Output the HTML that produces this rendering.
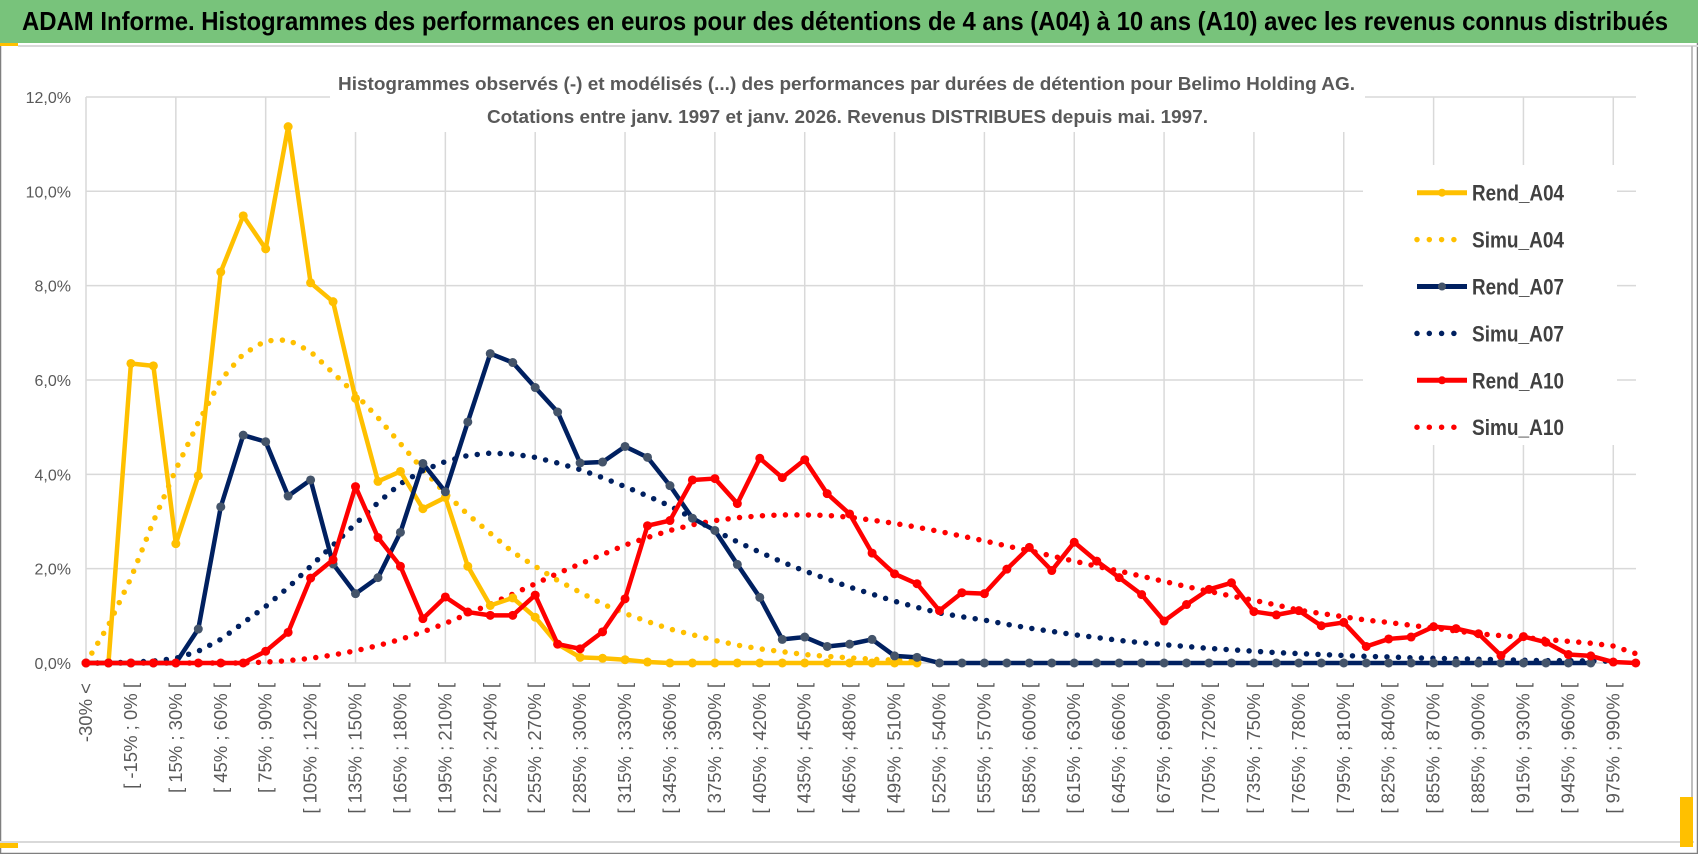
<!DOCTYPE html>
<html><head><meta charset="utf-8">
<style>
html,body{margin:0;padding:0;background:#fff;}
svg{display:block;font-family:"Liberation Sans",sans-serif;}
</style></head>
<body>
<svg id="chart" width="1698" height="854" viewBox="0 0 1698 854" xmlns="http://www.w3.org/2000/svg">
  <rect x="0" y="0" width="1698" height="854" fill="#fff"/>
  <rect x="0.5" y="0.5" width="1697" height="853" fill="none" stroke="#7f7f7f" stroke-width="1.5"/>
  <rect x="0" y="0" width="1698" height="43" fill="#78c37b"/>
  <rect x="0" y="43" width="18" height="3" fill="#ffc000"/>
  <line x1="18" y1="46" x2="1698" y2="46" stroke="#d9d9d9" stroke-width="2"/>
  <text x="22" y="30" font-size="26" font-weight="bold" fill="#000" textLength="1646" lengthAdjust="spacingAndGlyphs">ADAM Informe. Histogrammes des performances en euros pour des détentions de 4 ans (A04) à 10 ans (A10) avec les revenus connus distribués</text>
  <line x1="0" y1="842" x2="1694" y2="842" stroke="#d9d9d9" stroke-width="2"/>
  <rect x="0" y="843" width="18" height="5" fill="#ffc000"/>
  <line x1="1692" y1="46" x2="1692" y2="842" stroke="#bfbfbf" stroke-width="2"/>
  <rect x="1680" y="797" width="13" height="50" fill="#ffc000"/>
  <g id="grid"></g>
  <rect x="330" y="60" width="1035" height="72" fill="#fff"/>
  <text x="338" y="90" font-size="18" font-weight="bold" fill="#595959" textLength="1017" lengthAdjust="spacingAndGlyphs">Histogrammes observés (-) et modélisés (...) des performances par durées de détention pour Belimo Holding AG.</text>
  <text x="487" y="123" font-size="18" font-weight="bold" fill="#595959" textLength="721" lengthAdjust="spacingAndGlyphs">Cotations entre janv. 1997 et janv. 2026. Revenus DISTRIBUES depuis mai. 1997.</text>
  <g id="yaxis"></g>
  <g id="xaxis"></g>
  <g id="series"></g>
  <g id="legend"></g>
</svg>
<script>
const categoryLabels = (function(){const a=["-30% <"];for(let v=-30;v<=990;v+=15){a.push("[ "+v+"% ; "+(v+15)+"% [");}return a;})();
const yTicks = [0,2,4,6,8,10,12];
const yTickLabels = ["0,0%","2,0%","4,0%","6,0%","8,0%","10,0%","12,0%"];
const rendA04 = [0,0,6.35,6.3,2.53,3.97,8.29,9.48,8.78,11.37,8.06,7.66,5.61,3.85,4.06,3.27,3.51,2.05,1.22,1.38,0.97,0.4,0.12,0.1,0.07,0.02,0,0,0,0,0,0,0,0,0,0,0,0];
const simuA04 = [0,0.8,1.8,3.0,4.1,5.1,6.0,6.55,6.83,6.85,6.6,6.15,5.7,5.2,4.65,4.1,3.6,3.15,2.75,2.35,2.05,1.75,1.5,1.25,1.05,0.88,0.72,0.6,0.48,0.38,0.3,0.24,0.18,0.14,0.11,0.08,0.06,0.04];
const rendA07 = [0,0,0,0,0,0.72,3.31,4.83,4.69,3.54,3.88,2.1,1.47,1.81,2.77,4.23,3.63,5.11,6.56,6.37,5.84,5.32,4.24,4.26,4.59,4.36,3.76,3.07,2.81,2.09,1.39,0.5,0.55,0.35,0.4,0.5,0.15,0.12,0,0,0,0,0,0,0,0,0,0,0,0,0,0,0,0,0,0,0,0,0,0,0,0,0,0,0,0,0,0];
const simuA07 = [0,0,0.02,0.04,0.1,0.25,0.5,0.85,1.2,1.6,2.05,2.5,2.95,3.4,3.8,4.08,4.27,4.4,4.45,4.43,4.36,4.24,4.1,3.93,3.74,3.54,3.33,3.07,2.81,2.57,2.35,2.14,1.95,1.78,1.61,1.46,1.31,1.18,1.06,0.98,0.91,0.82,0.74,0.67,0.6,0.54,0.48,0.43,0.39,0.35,0.31,0.28,0.25,0.22,0.2,0.18,0.16,0.14,0.13,0.11,0.1,0.09,0.08,0.07,0.06,0.05,0.05,0.04,0.04];
const rendA10 = [0,0,0,0,0,0,0,0,0.25,0.65,1.8,2.19,3.74,2.66,2.05,0.94,1.4,1.08,1.01,1.01,1.44,0.4,0.3,0.66,1.36,2.91,3.02,3.88,3.91,3.38,4.34,3.93,4.31,3.59,3.16,2.33,1.89,1.68,1.11,1.49,1.47,1.99,2.45,1.96,2.56,2.16,1.81,1.45,0.89,1.24,1.56,1.7,1.09,1.02,1.11,0.79,0.86,0.35,0.51,0.55,0.77,0.73,0.62,0.16,0.56,0.44,0.18,0.15,0.02,0];
const simuA10 = [0,0,0,0,0,0,0,0,0.02,0.05,0.1,0.17,0.26,0.37,0.5,0.66,0.84,1.04,1.25,1.46,1.68,1.9,2.1,2.3,2.5,2.66,2.81,2.93,3.02,3.08,3.12,3.14,3.14,3.13,3.09,3.03,2.96,2.88,2.79,2.69,2.59,2.48,2.38,2.27,2.16,2.05,1.95,1.84,1.73,1.62,1.52,1.42,1.33,1.23,1.12,1.05,0.98,0.91,0.86,0.8,0.74,0.68,0.62,0.58,0.54,0.5,0.46,0.42,0.36,0.2];
const seriesNames = ["Rend_A04","Simu_A04","Rend_A07","Simu_A07","Rend_A10","Simu_A10"];

const NS="http://www.w3.org/2000/svg";
const X0=86, DX=22.46, Y0=663, PPU=47.17, XMAX=1636;
function xScale(i){return X0+i*DX;}
function yScale(v){return Y0-v*PPU;}
function mk(tag,attrs,parent){const e=document.createElementNS(NS,tag);for(const k in attrs)e.setAttribute(k,attrs[k]);parent.appendChild(e);return e;}

const grid=document.getElementById('grid');
yTicks.forEach(function(t){
  const l=mk('line',{x1:X0,x2:XMAX,y1:yScale(t),y2:yScale(t),stroke:'#d9d9d9','stroke-width':1.5},grid);
  
  
});
for(let i=0;i<categoryLabels.length;i+=4){
  const l=mk('line',{x1:xScale(i),x2:xScale(i),y1:yScale(12),y2:Y0,stroke:'#d9d9d9','stroke-width':1.5},grid);
  
  
}
const yax=document.getElementById('yaxis');
yTicks.forEach(function(t,k){
  const tx=mk('text',{x:71,y:yScale(t)+6,'font-size':16,'text-anchor':'end',fill:'#595959'},yax);
  tx.textContent=yTickLabels[k];
  
  
});
const xax=document.getElementById('xaxis');
categoryLabels.forEach(function(lab,i){
  if(i%2!==0)return;
  const x=xScale(i)+6, y=683;
  const tx=mk('text',{x:x,y:y,'font-size':18.5,'text-anchor':'end',fill:'#595959',transform:'rotate(-90 '+x+' '+y+')'},xax);
  tx.textContent=lab;
  
  
});

const ser=document.getElementById('series');
function pts(arr){return arr.map(function(v,i){return xScale(i)+','+yScale(v);}).join(' ');}
function dotted(arr,color,name){
  const p=mk('polyline',{points:pts(arr),fill:'none',stroke:color,'stroke-width':5.5,'stroke-linecap':'round','stroke-linejoin':'round','stroke-dasharray':'0 11.5'},ser);
  
  
}
function solid(arr,color,mcolor,name){
  const g=mk('g',{},ser);
  
  
  const p=mk('polyline',{points:pts(arr),fill:'none',stroke:color,'stroke-width':4.5,'stroke-linejoin':'round'},g);
  
  
  arr.forEach(function(v,i){
    const c=mk('circle',{cx:xScale(i),cy:yScale(v),r:4.5,fill:mcolor},g);
    
    
  });
}
dotted(simuA04,'#ffc000','simu-a04');
dotted(simuA07,'#002060','simu-a07');
dotted(simuA10,'#ff0000','simu-a10');
solid(rendA04,'#ffc000','#ffc000','rend-a04');
solid(rendA07,'#002060','#44546a','rend-a07');
solid(rendA10,'#ff0000','#ff0000','rend-a10');

const leg=document.getElementById('legend');
const lb=mk('rect',{x:1363,y:165,width:254,height:280,fill:'#fff'},leg);


const legColors=['#ffc000','#ffc000','#002060','#002060','#ff0000','#ff0000'];
const legMarkers=['#ffc000',null,'#44546a',null,'#ff0000',null];
seriesNames.forEach(function(n,k){
  const y=192.7+k*46.9;
  const g=mk('g',{},leg);
  
  
  if(legMarkers[k]){
    mk('line',{x1:1417,x2:1467,y1:y,y2:y,stroke:legColors[k],'stroke-width':5},g);
    mk('circle',{cx:1442,cy:y,r:4,fill:legMarkers[k]},g);
  } else {
    mk('line',{x1:1417,x2:1455,y1:y,y2:y,stroke:legColors[k],'stroke-width':5.5,'stroke-linecap':'round','stroke-dasharray':'0 12.3'},g);
  }
  const t=mk('text',{x:1472,y:y+8,'font-size':22,'font-weight':'bold',fill:'#404040',textLength:92,lengthAdjust:'spacingAndGlyphs'},g);
  t.textContent=n;
  
  
});
</script>
</body></html>
